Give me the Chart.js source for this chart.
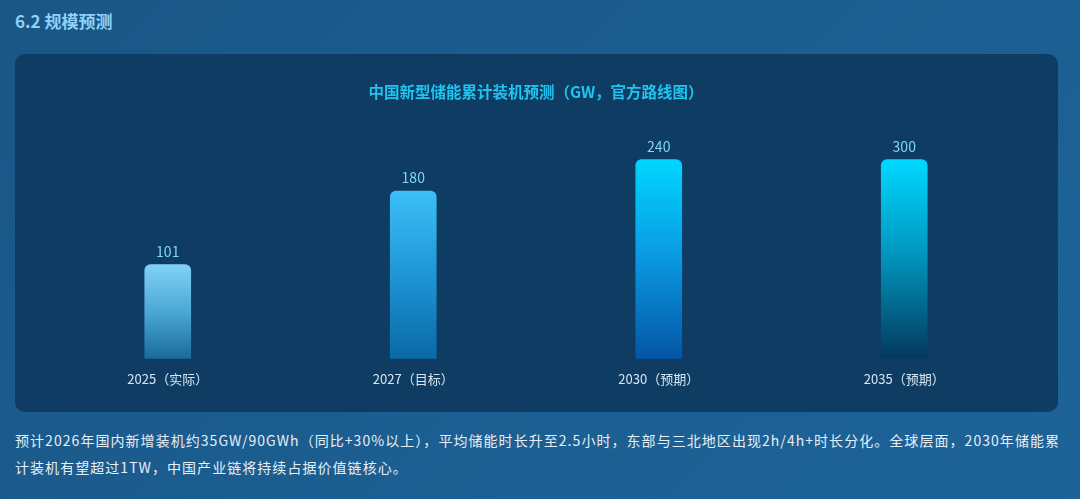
<!DOCTYPE html>
<html lang="zh">
<head>
<meta charset="utf-8">
<title>6.2 规模预测</title>
<script src="https://cdn.jsdelivr.net/npm/chart.js@4.4.1/dist/chart.umd.min.js"></script>
<style>
  html, body {
    margin: 0;
    padding: 0;
  }
  body {
    width: 1080px;
    height: 499px;
    overflow: hidden;
    background: linear-gradient(135deg, #1a5686 0%, #1c5f92 60%, #1d6398 100%);
    font-family: "Noto Sans CJK SC", "Noto Sans", sans-serif;
  }
  h2 {
    position: absolute;
    left: 15px;
    top: 9px;
    margin: 0;
    font-size: 17px;
    line-height: 24px;
    font-weight: 700;
    color: #8dd2f7;
  }
  .card {
    position: absolute;
    left: 15px;
    top: 54px;
    width: 1043px;
    height: 358px;
    border-radius: 10px;
    background: #0f3c62;
  }
  .note {
    position: absolute;
    left: 15px;
    top: 427px;
    width: 1058px;
    margin: 0;
    font-size: 14px;
    line-height: 27px;
    letter-spacing: 1.05px;
    color: #e6eef6;
  }
</style>
</head>
<body>
<h2>6.2 规模预测</h2>
<div class="card">
  <canvas id="scaleChart"></canvas>
</div>
<p class="note">预计2026年国内新增装机约35GW/90GWh（同比+30%以上），平均储能时长升至2.5小时，东部与三北地区出现2h/4h+时长分化。全球层面，2030年储能累计装机有望超过1TW，中国产业链将持续占据价值链核心。</p>

<script>
// Chart data
const years = ['2025（实际）', '2027（目标）', '2030（预期）', '2035（预期）'];
const capacityGW = [101, 180, 240, 300];

// Gradient stops per bar (top -> bottom)
const barTopColors = ['#80d1f6', '#3bc0f8', '#00d6ff', '#00d8ff'];
const barMidColors = ['#4aa8d6', '#1f95d6', '#0a98e0', '#0092ba'];
const barBottomColors = ['#1a6b9b', '#0a69a6', '#0356a6', '#05395d'];

const yMax = 214;

// Keep tall bars inside the plot area so their rounded tops stay visible
const capBarsPlugin = {
    id: 'capBars',
    afterDatasetsUpdate(chart) {
        const top = chart.chartArea.top;
        chart.getDatasetMeta(0).data.forEach(bar => {
            if (bar.y < top) bar.y = top;
        });
    }
};

// Value labels above each bar
const valueLabelPlugin = {
    id: 'valueLabels',
    afterDatasetsDraw(chart) {
        const ctx = chart.ctx;
        const meta = chart.getDatasetMeta(0);
        ctx.save();
        ctx.font = '14px "Noto Sans CJK SC", sans-serif';
        ctx.fillStyle = '#7fd6f2';
        ctx.textAlign = 'center';
        ctx.textBaseline = 'bottom';
        meta.data.forEach((bar, i) => {
            ctx.fillText(String(capacityGW[i]), bar.x, bar.y - 6);
        });
        ctx.restore();
    }
};

function barGradient(context) {
    const chart = context.chart;
    const area = chart.chartArea;
    const i = context.dataIndex;
    if (!area) return barTopColors[i];
    const y = chart.scales.y;
    const top = Math.max(y.getPixelForValue(capacityGW[i]), area.top);
    const bottom = y.getPixelForValue(0);
    const g = chart.ctx.createLinearGradient(0, top, 0, bottom);
    g.addColorStop(0, barTopColors[i]);
    g.addColorStop(0.5, barMidColors[i]);
    g.addColorStop(1, barBottomColors[i]);
    return g;
}

const ctx = document.getElementById('scaleChart');

new Chart(ctx, {
    type: 'bar',
    data: {
        labels: years,
        datasets: [{
            label: '累计装机（GW）',
            data: capacityGW,
            backgroundColor: barGradient,
            borderRadius: { topLeft: 6, topRight: 6 },
            borderSkipped: 'bottom',
            barThickness: 46,
            clip: false
        }]
    },
    options: {
        responsive: true,
        maintainAspectRatio: false,
        animation: false,
        layout: {
            padding: { left: 30, right: 31, top: 0, bottom: 20 }
        },
        plugins: {
            legend: { display: false },
            tooltip: { enabled: false },
            title: {
                display: true,
                text: '中国新型储能累计装机预测（GW，官方路线图）',
                color: '#1fc4f0',
                font: { size: 15.5, weight: 'bold', family: '"Noto Sans CJK SC", sans-serif' },
                padding: { top: 29, bottom: 58 }
            }
        },
        scales: {
            x: {
                grid: { display: false },
                border: { display: false },
                ticks: {
                    color: '#d6e6f2',
                    padding: 5,
                    font: { size: 13, family: '"Noto Sans CJK SC", sans-serif' }
                }
            },
            y: {
                display: false,
                min: 0,
                max: yMax
            }
        }
    },
    plugins: [capBarsPlugin, valueLabelPlugin]
});
</script>
</body>
</html>
